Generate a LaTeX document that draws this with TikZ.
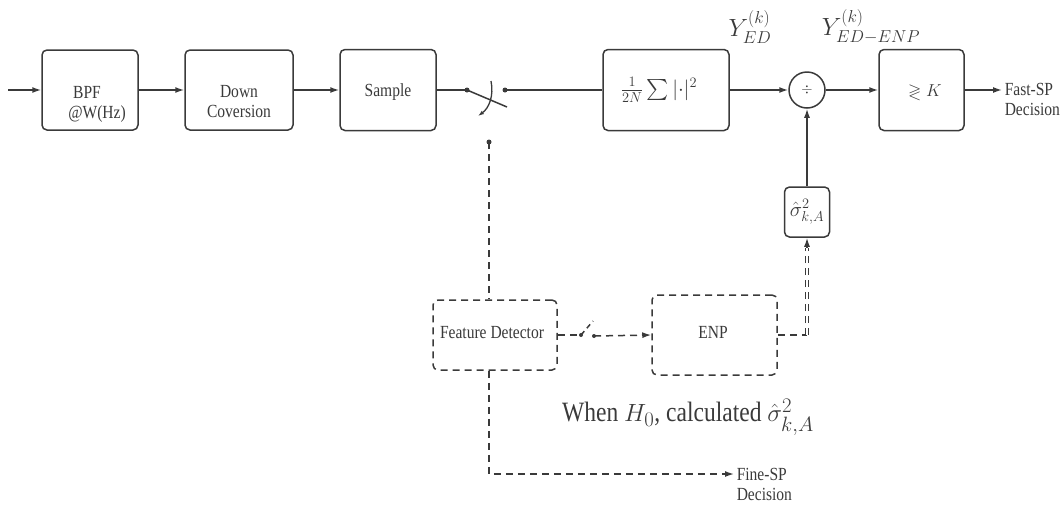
\documentclass[tikz,border=0pt]{standalone}
\usepackage{amssymb}
\usepackage{fontspec}
\setmainfont{Liberation Serif}[FakeStretch=0.84]
\usetikzlibrary{arrows.meta,calc}
\definecolor{ink}{HTML}{3A3A3A}
\begin{document}
\begin{tikzpicture}[x=1pt,y=-1pt,
  line width=1.5pt,
  blk/.style={draw=ink, rounded corners=5pt, line width=1.5pt, inner sep=0pt},
  txt/.style={text=ink, font=\fontsize{18.5}{20}\selectfont, align=center, inner sep=0pt},
  mth/.style={text=ink, inner sep=0pt},
  arr/.style={-{Latex[length=9pt,width=6pt]}, draw=ink, line width=1.5pt},
  smallarr/.style={-{Latex[length=6pt,width=4pt]}, draw=ink, line width=1.3pt},
  dsh/.style={dash pattern=on 7pt off 5pt},
  dot/.style={circle, fill=ink, draw=none, inner sep=0pt, minimum size=5pt}]
\useasboundingbox (0,0) rectangle (1062,512);

% main receive chain
\coordinate (in) at (8,90);
\node[blk, minimum width=96pt, minimum height=80pt] (bpf) at (90,90) {};
\node[txt] (bpft) at (91,104) {BPF\hspace*{8pt}\\\hspace*{12pt}@W(Hz)};
\node[blk, minimum width=108pt, minimum height=80pt] (down) at (239,90) {};
\node[txt] (downt) at (239,102) {Down\\Coversion};
\node[blk, minimum width=96pt, minimum height=81pt] (smp) at (388,90) {};
\node[txt] (smpt) at (388,92) {Sample};

% sampling switch
\node[dot] (s1a) at (467,90) {};
\node[dot] (s1b) at (505,90) {};
\coordinate (blade1) at (507,107);
\draw[draw=ink] (s1a.center) -- (blade1);
\coordinate (arcA) at (491,81);
\coordinate (arcB) at (478,116);
\draw[smallarr] (arcA) .. controls (494,96) and (489,108) .. (arcB);
\node[dot] (tap) at (489,142) {};

% energy detector and normalisation
\node[blk, minimum width=126pt, minimum height=81pt] (sum) at (666,90) {};
\node[mth, font=\fontsize{21}{23}\selectfont] (sumt) at (659,90) {$\frac{1}{2N}\sum|{\cdot}|^2$};
\node[draw=ink, circle, minimum size=36pt, inner sep=0pt, line width=1.5pt, text=ink,
      font=\fontsize{15}{17}\selectfont] (div) at (807,90) {$\div$};
\node[blk, minimum width=85pt, minimum height=81pt] (cmp) at (921.5,90) {};
\node[mth, font=\fontsize{17}{19}\selectfont] (cmpt) at (925,92) {$\gtrless K$};
\node[blk, minimum width=45pt, minimum height=50pt, text=ink,
      font=\fontsize{21}{23}\selectfont] (sig) at (807,212) {$\hat{\sigma}^2_{k,A}$};
\node[txt, align=left, anchor=west] (fast) at (1004,99) {Fast-SP\\Decision};

\node[mth, font=\fontsize{26}{28}\selectfont] (yed) at (750,27) {$Y^{(k)}_{ED}$};
\node[mth, font=\fontsize{26}{28}\selectfont] (yenp) at (871,27) {$Y^{(k)}_{ED-ENP}$};

% feature detection branch
\node[blk, dsh, minimum width=124pt, minimum height=70pt] (fd) at (495,335) {};
\node[txt] (fdt) at (492,333) {Feature Detector};
\node[blk, dsh, minimum width=125pt, minimum height=80pt] (enp) at (714.5,335) {};
\node[txt] (enpt) at (713,332) {ENP};
\node[dot, minimum size=4pt] (s2a) at (581,335) {};
\node[dot, minimum size=4pt] (s2b) at (594,336) {};
\coordinate (blade2) at (593,321);
\node[txt, align=left, anchor=west] (fine) at (736,484) {Fine-SP\\Decision};
\node[mth, font=\fontsize{28}{30}\selectfont] (note) at (688,417)
  {When $H_0$, calculated $\hat{\sigma}^2_{k,A}$};

% solid connectors
\draw[arr] (in) -- (bpf.west);
\draw[arr] (bpf.east) -- (down.west);
\draw[arr] (down.east) -- (smp.west);
\draw[draw=ink] (smp.east) -- (s1a.center);
\draw[draw=ink] (s1b.center) -- (sum.west);
\draw[arr] (sum.east) -- (div.west);
\draw[arr] (div.east) -- (cmp.west);
\draw[arr] (cmp.east) -- ([xshift=-2pt]cmp.east -| fast.west);
\draw[arr] (sig.north) -- (div.south);

% dashed connectors
\draw[draw=ink, dsh] (tap.center) -- (tap |- fd.north);
\draw[draw=ink, dsh] (fd.east) -- (s2a.center);
\draw[draw=ink, dash pattern=on 5pt off 4pt] (s2a.center) -- (blade2);
\draw[arr, dsh] (s2b.center) -- (enp.west);
\coordinate (bend) at (sig.south |- enp.east);
\coordinate (sigin) at ([yshift=-10pt]sig.south);
\draw[draw=ink, dsh] (enp.east) -- (bend);
\draw[draw=ink, line width=1.1pt, double, double distance=2pt, dsh] (bend) -- (sigin);
\draw[arr] (sigin) -- (sig.south);
\coordinate (fc) at (489,474);
\draw[arr, dsh] (tap |- fd.south) -- (fc) -- ([xshift=-2pt]fc -| fine.west);
\end{tikzpicture}
\end{document}
